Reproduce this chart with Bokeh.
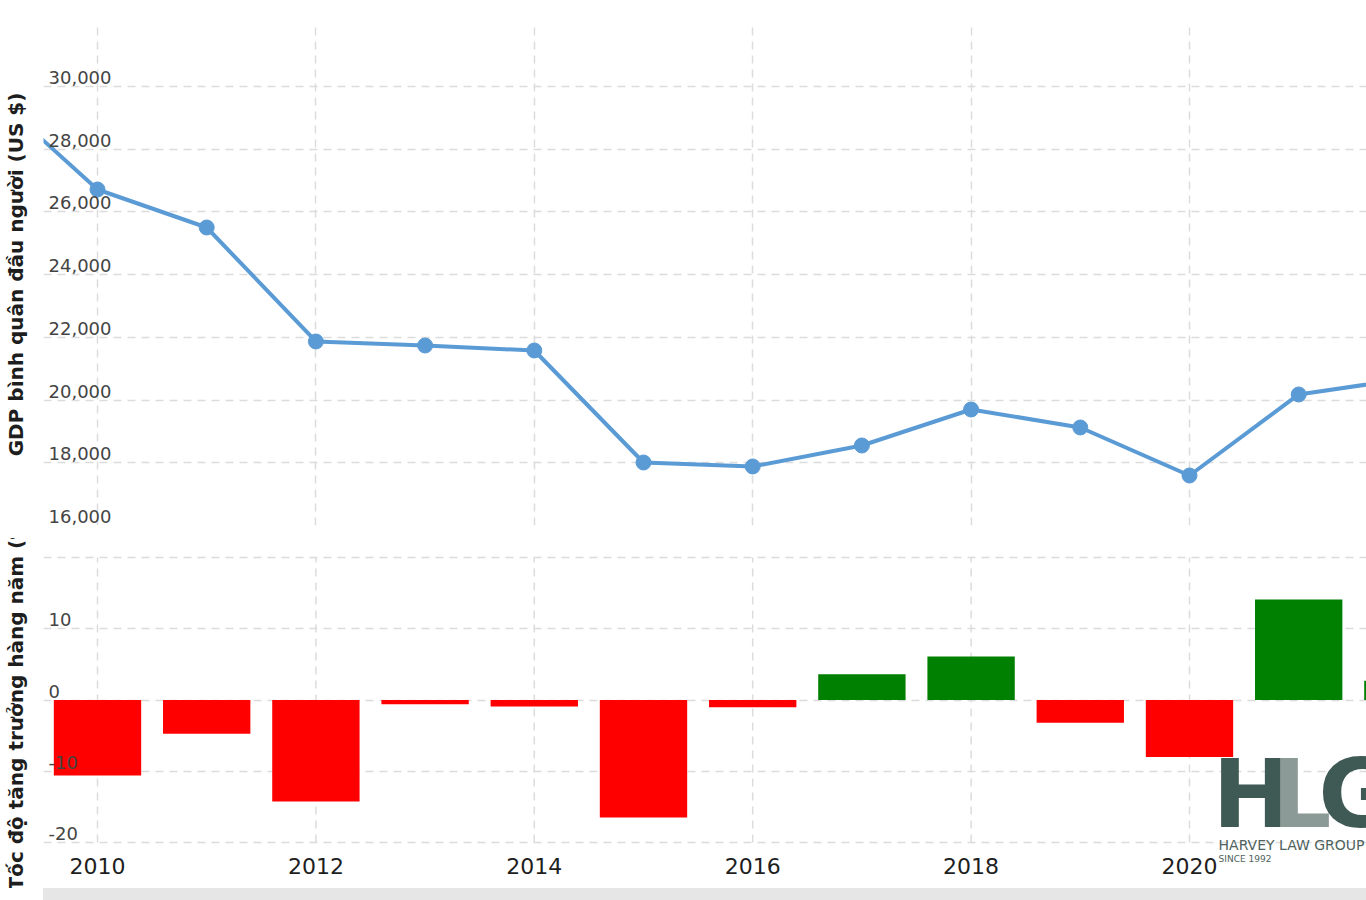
from bokeh.plotting import figure
from bokeh.layouts import column
from bokeh.models import FixedTicker, Range1d, ColumnDataSource, Div, Label
from bokeh.core.properties import value
from bokeh.embed import file_html
from bokeh.resources import INLINE

# ---------------- data ----------------
years = [2009, 2010, 2011, 2012, 2013, 2014, 2015, 2016, 2017, 2018, 2019, 2020, 2021, 2022]
gdp_per_capita = [29865, 26709, 25498, 21865, 21737, 21578, 18008, 17881, 18550, 19697, 19124, 17594, 20176, 20686]

growth_years = [2010, 2011, 2012, 2013, 2014, 2015, 2016, 2017, 2018, 2019, 2020, 2021, 2022]
growth_pct = [-10.6, -4.75, -14.25, -0.6, -0.9, -16.5, -1.0, 3.6, 6.1, -3.2, -8.0, 14.1, 2.7]

x_ticks = [2010, 2012, 2014, 2016, 2018, 2020]
gdp_ticks = [16000, 18000, 20000, 22000, 24000, 26000, 28000, 30000]
gdp_tick_labels = ["16,000", "18,000", "20,000", "22,000", "24,000", "26,000", "28,000", "30,000"]
gdp_grid = [16000, 18000, 20000, 22000, 24000, 26000, 28000, 30000, 32000]
growth_ticks = [-20, -10, 0, 10]
growth_tick_labels = ["-20", "-10", "0", "10"]
growth_grid = [-20, -10, 0, 10, 20]

top_title = "GDP bình quân đầu người (US $)"
bottom_title = "Tốc độ tăng trưởng hàng năm (%)"

X_START, X_END = 2009.5055, 2021.621
GROWTH_VIEW = (-22.807, 22.667)
FONT = "DejaVu Sans"
GRID_COLOR = "#dcdcdc"
GRID_DASH = "8 6"
LINE_COLOR = "#5b9bd5"
W = 1366


def style_common(p):
    p.outline_line_color = None
    p.background_fill_color = "white"
    p.border_fill_color = "white"
    for g in (p.xgrid, p.ygrid):
        g.grid_line_color = GRID_COLOR
        g.grid_line_dash = GRID_DASH
        g.grid_line_width = 1.5
    ax = p.yaxis[0]
    ax.ticker = FixedTicker(ticks=[])
    ax.axis_line_color = None
    ax.major_tick_line_color = None
    ax.minor_tick_line_color = None
    ax.major_tick_out = 0
    ax.major_tick_in = 0
    ax.axis_label_text_font = FONT
    ax.axis_label_text_font_style = "bold"
    ax.axis_label_text_font_size = "20px"
    ax.axis_label_text_color = "#1e1e1e"
    ax.axis_label_standoff = 16


# ---------------- top: GDP per capita ----------------
p1 = figure(width=W, height=538,
            x_range=Range1d(X_START, X_END), y_range=Range1d(min(gdp_grid), max(gdp_grid)),
            output_backend="svg", toolbar_location=None,
            min_border_left=43, min_border_right=0, min_border_top=23, min_border_bottom=13)
style_common(p1)
p1.xaxis.visible = False
p1.xgrid.ticker = FixedTicker(ticks=x_ticks)
p1.ygrid.ticker = FixedTicker(ticks=gdp_grid)
p1.yaxis.axis_label = top_title

src = ColumnDataSource(dict(x=years, y=gdp_per_capita))
p1.line("x", "y", source=src, line_color=LINE_COLOR, line_width=4)
p1.scatter("x", "y", source=src, size=15, fill_color=LINE_COLOR, line_color=LINE_COLOR)

p1.text(x=[X_START] * len(gdp_ticks), y=gdp_ticks, text=gdp_tick_labels,
        x_offset=5, y_offset=-9, text_font=value(FONT), text_font_size="18px",
        text_color="#444444", text_align="left", text_baseline="middle")

# ---------------- bottom: annual growth ----------------
p2 = figure(width=W, height=350,
            x_range=p1.x_range, y_range=Range1d(*GROWTH_VIEW),
            output_backend="svg", toolbar_location=None,
            min_border_left=43, min_border_right=0, min_border_top=0, min_border_bottom=26)
style_common(p2)
p2.xgrid.visible = False
p2.ygrid.ticker = FixedTicker(ticks=growth_grid)
p2.yaxis.axis_label = bottom_title

# vertical grid of the lower panel spans only the -20..20 band
p2.segment(x0=x_ticks, y0=[min(growth_grid)] * len(x_ticks),
           x1=x_ticks, y1=[max(growth_grid)] * len(x_ticks),
           line_color=GRID_COLOR, line_dash=GRID_DASH, line_width=1.5)

xa = p2.xaxis[0]
xa.ticker = FixedTicker(ticks=x_ticks)
xa.axis_line_color = None
xa.major_tick_line_color = None
xa.minor_tick_line_color = None
xa.major_tick_out = 0
xa.major_tick_in = 0
xa.major_label_standoff = -5
xa.major_label_text_font = FONT
xa.major_label_text_font_size = "22px"
xa.major_label_text_color = "#1e1e1e"

bar_colors = ["#ff0000" if v < 0 else "#008000" for v in growth_pct]
p2.vbar(x=growth_years, top=growth_pct, bottom=0, width=0.8,
        fill_color=bar_colors, line_color=None)

p2.text(x=[X_START] * len(growth_ticks), y=growth_ticks, text=growth_tick_labels,
        x_offset=5, y_offset=-9, text_font=value(FONT), text_font_size="18px",
        text_color="#444444", text_align="left", text_baseline="middle")

# watermark logo (HLG)
LOGO_DARK = "#3f5a54"
LOGO_LIGHT = "#8b9a96"
for txt, xx, col in (("H", 2020.211, LOGO_DARK), ("L", 2020.751, LOGO_LIGHT), ("G", 2021.18, LOGO_DARK)):
    p2.add_layout(Label(x=xx, y=-13.26, text=txt, text_font=FONT,
                        text_font_style="bold", text_font_size="94px", text_color=col,
                        text_align="left", text_baseline="middle"))
p2.add_layout(Label(x=2020.266, y=-20.42, text="HARVEY LAW GROUP", text_font=FONT,
                    text_font_size="14px", text_color="#4f625d", text_align="left",
                    text_baseline="middle"))
p2.add_layout(Label(x=2020.266, y=-22.25, text="SINCE 1992", text_font=FONT,
                    text_font_size="9px", text_color="#4f625d", text_align="left",
                    text_baseline="middle"))

# ---------------- range strip at the bottom ----------------
strip = Div(text="", width=W - 43, height=12, margin=(0, 0, 0, 43),
            styles={"background-color": "#e6e6e6"})

layout = column(p1, p2, strip, spacing=0)
open("out.html", "w").write(file_html(layout, INLINE))
